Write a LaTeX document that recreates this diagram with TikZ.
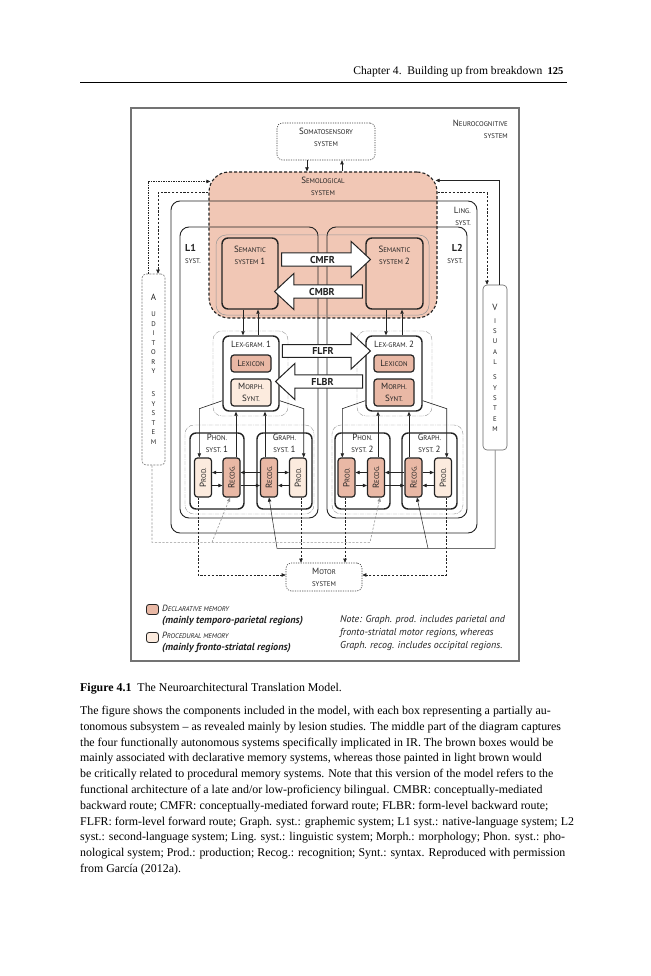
\documentclass[tikz,border=0pt]{standalone}
\usepackage{fontspec}
\usepackage{graphicx}
\setmainfont{Liberation Serif}
\newfontfamily\diagfont{PT Sans}
\usetikzlibrary{arrows.meta,calc,shapes.arrows}
\pgfdeclarelayer{back}
\pgfsetlayers{back,main}

\definecolor{ink}{RGB}{35,35,35}
\definecolor{semofill}{RGB}{241,199,181}
\definecolor{declfill}{RGB}{233,184,165}
\definecolor{procfill}{RGB}{252,235,222}
\definecolor{framegray}{RGB}{115,115,115}
\definecolor{envgray}{RGB}{150,150,150}

% small caps set by hand
\newcommand{\capbig}{\fontsize{9}{12}\selectfont}
\newcommand{\capsmall}{\fontsize{6.8}{12}\selectfont}
\newcommand{\fakesc}[2]{{\capbig #1}{\capsmall #2}}

\tikzset{
  lbl/.style={font=\diagfont\fontsize{6.8}{12}\selectfont, text=ink, inner sep=0pt, align=center},
  sysbox/.style={draw=ink, line width=0.9pt, rounded corners=9pt, inner sep=0pt},
  thickbox/.style={draw=ink, line width=1.4pt, rounded corners=6pt, fill=white, inner sep=0pt},
  declbox/.style={lbl, draw=ink, line width=1.2pt, rounded corners=3pt, fill=declfill},
  procbox/.style={lbl, draw=ink, line width=1.2pt, rounded corners=3pt, fill=procfill},
  envbox/.style={draw=envgray, line width=0.45pt, rounded corners=9pt, inner sep=0pt,
    dash pattern=on 4pt off 1pt on 0.6pt off 1pt},
  dotbox/.style={draw=ink!85, line width=0.6pt, rounded corners=5pt, inner sep=0pt,
    dash pattern=on 1.2pt off 1.2pt},
  conn/.style={-{Triangle[length=4pt,width=3.4pt]}, draw=ink, line width=0.6pt},
  dashconn/.style={conn, dash pattern=on 2.2pt off 1.6pt},
  blockarrow/.style={single arrow, draw=ink, fill=white, line width=1pt, text=ink,
    minimum width=36pt, single arrow head extend=9pt, single arrow tip angle=86,
    inner sep=1pt, font=\diagfont\bfseries\fontsize{10}{12}\selectfont},
}

\begin{document}
\begin{tikzpicture}[x=1pt, y=-1pt]
\begin{pgfonlayer}{back}
  \fill[white] (0,0) rectangle (650,976);
\end{pgfonlayer}
\useasboundingbox (0,0) rectangle (650,976);

% Running head
\node[anchor=base east, font=\fontsize{11.6}{13}\selectfont] (runhead) at (546,75) {Chapter 4.\ \ Building up from breakdown};
\node[anchor=base east, font=\bfseries\fontsize{10.5}{13}\selectfont] (folio) at (567,75) {125};
\draw[line width=0.5pt] (80,82) -- (567,82);

% Frame
\draw[framegray, line width=1.3pt] (131,108) rectangle (519,661);

% Semological system
\node[draw=ink, fill=semofill, line width=1.1pt, dash pattern=on 3pt off 2pt, rounded corners=20pt,
  minimum width=228pt, minimum height=146pt, inner sep=0pt] (semol) at (323,245) {};

% Linguistic, L1 and L2 systems
\node[sysbox, minimum width=306pt, minimum height=332pt] (ling) at (324,367) {};
\node[sysbox, minimum width=138pt, minimum height=291pt] (lone) at (249,372.5) {};
\node[sysbox, minimum width=140pt, minimum height=291pt] (ltwo) at (397,372.5) {};

% Semantic systems
\node[draw=envgray, line width=0.5pt, rounded corners=10pt, minimum width=213pt, minimum height=80pt, inner sep=0pt] (semenv) at (322.5,275) {};
\node[thickbox, fill=semofill, minimum width=56pt, minimum height=71pt] (semone) at (250,273.5) {};
\node[thickbox, fill=semofill, minimum width=57pt, minimum height=71pt] (semtwo) at (394.5,273.5) {};
\node[blockarrow, minimum height=89pt] (cmfr) at (322.5,259.5) {CMFR};
\node[blockarrow, shape border rotate=180, minimum height=88pt] (cmbr) at (322,291.5) {CMBR};

% Lexico-grammatical systems
\node[envbox, minimum width=75pt, minimum height=85pt] (lexenvone) at (250.5,373.5) {};
\node[envbox, minimum width=75pt, minimum height=85pt] (lexenvtwo) at (394.5,373.5) {};
\node[thickbox, minimum width=56pt, minimum height=75pt] (lexone) at (251,373.5) {};
\node[thickbox, minimum width=56pt, minimum height=75pt] (lextwo) at (394,373.5) {};
\node[declbox, minimum width=40pt, minimum height=17pt] (lexiconone) at (251,363.5) {\fakesc{L}{EXICON}};
\node[declbox, minimum width=40pt, minimum height=17pt] (lexicontwo) at (394,363.5) {\fakesc{L}{EXICON}};
\node[procbox, minimum width=40pt, minimum height=27pt] (morphone) at (251,392.5) {\fakesc{M}{ORPH.}\\\fakesc{S}{YNT.}};
\node[declbox, minimum width=40pt, minimum height=27pt] (morphtwo) at (394,392.5) {\fakesc{M}{ORPH.}\\\fakesc{S}{YNT.}};
\node[blockarrow, minimum height=88pt] (flfr) at (323,351) {FLFR};
\node[blockarrow, shape border rotate=180, minimum height=87pt] (flbr) at (322.5,381.5) {FLBR};

% Phonological and graphemic systems
\node[envbox, minimum width=129pt, minimum height=89pt] (lowenvone) at (249.5,469.5) {};
\node[envbox, minimum width=131pt, minimum height=89pt] (lowenvtwo) at (397.5,469.5) {};
\node[thickbox, minimum width=54pt, minimum height=76pt] (phonone) at (217,471) {};
\node[thickbox, minimum width=55pt, minimum height=76pt] (graphone) at (284.5,471) {};
\node[thickbox, minimum width=55pt, minimum height=76pt] (phontwo) at (362.5,471) {};
\node[thickbox, minimum width=55pt, minimum height=76pt] (graphtwo) at (429.5,471) {};
\node[procbox, minimum width=17pt, minimum height=39pt] (prodone) at (203,477.5) {\rotatebox{90}{\fakesc{P}{ROD.}}};
\node[declbox, minimum width=17pt, minimum height=39pt] (recogone) at (231.5,477.5) {\rotatebox{90}{\fakesc{R}{ECOG.}}};
\node[declbox, minimum width=17pt, minimum height=39pt] (grecogone) at (269,477.5) {\rotatebox{90}{\fakesc{R}{ECOG.}}};
\node[procbox, minimum width=17pt, minimum height=39pt] (gprodone) at (298,477.5) {\rotatebox{90}{\fakesc{P}{ROD.}}};
\node[declbox, minimum width=17pt, minimum height=39pt] (prodtwo) at (346.5,477.5) {\rotatebox{90}{\fakesc{P}{ROD.}}};
\node[declbox, minimum width=17pt, minimum height=39pt] (recogtwo) at (376,477.5) {\rotatebox{90}{\fakesc{R}{ECOG.}}};
\node[declbox, minimum width=17pt, minimum height=39pt] (grecogtwo) at (413.5,477.5) {\rotatebox{90}{\fakesc{R}{ECOG.}}};
\node[procbox, minimum width=17pt, minimum height=39pt] (gprodtwo) at (443,477.5) {\rotatebox{90}{\fakesc{P}{ROD.}}};

% Outer systems
\node[draw=ink!60, line width=0.6pt, dash pattern=on 2pt off 1.2pt, rounded corners=4pt,
  minimum width=23pt, minimum height=191pt, inner sep=0pt] (aud) at (153.5,369.5) {};
\node[draw=ink!70, line width=0.6pt, rounded corners=4pt,
  minimum width=24pt, minimum height=165pt, inner sep=0pt] (vis) at (495,367.5) {};
\node[dotbox, minimum width=98pt, minimum height=37pt] (soma) at (326,141.5) {};
\node[dotbox, lbl, minimum width=76pt, minimum height=28pt] (motor) at (324,577) {\fakesc{M}{OTOR}\\\fakesc{}{SYSTEM}};

% Connectors to and from the semological system
\begin{pgfonlayer}{back}
  \draw[dashconn] ($(semol.north west)+(0,21)$) -| ([xshift=4.5pt]aud.north);
  \draw[dashconn] ($(semol.north east)+(0,21)$) -| ([xshift=-8pt]vis.north);
\end{pgfonlayer}
\draw[dashconn, dash pattern=on 1.5pt off 1pt] ([xshift=-5.5pt]aud.north) |- ($(semol.north west)+(2,10)$);
\draw[conn] ([xshift=4pt]vis.north) |- ($(semol.north east)+(-2,9)$);
\draw[conn] ([xshift=-19pt]soma.south) -- ([xshift=-19pt]soma.south |- semol.north);
\draw[conn] ([xshift=16pt]soma.south |- semol.north) -- ([xshift=16pt]soma.south);

% Semantic <-> lexico-grammatical
\draw[conn] ([xshift=-7pt]semone.south) -- ([xshift=-7pt]semone.south |- lexone.north);
\draw[conn] ([xshift=8pt]semone.south |- lexone.north) -- ([xshift=8pt]semone.south);
\draw[conn] ([xshift=-8.5pt]semtwo.south) -- ([xshift=-8.5pt]semtwo.south |- lextwo.north);
\draw[conn] ([xshift=7.5pt]semtwo.south |- lextwo.north) -- ([xshift=7.5pt]semtwo.south);

% Lexico-grammatical -> production
\coordinate (bendone) at ($(lexone.south west)+(-23,-3)$);
\coordinate (bendtwo) at ($(lexone.south east)+(24,-3)$);
\coordinate (bendthree) at ($(lextwo.south west)+(-23,-3)$);
\coordinate (bendfour) at ($(lextwo.south east)+(24,-3)$);
\draw[conn] ($(lexone.south west)+(0,-11)$) -- (bendone) -- (bendone |- prodone.north);
\draw[conn] ($(lexone.south east)+(0,-11)$) -- (bendtwo) -- (bendtwo |- gprodone.north);
\draw[conn] ($(lextwo.south west)+(0,-11)$) -- (bendthree) -- (bendthree |- prodtwo.north);
\draw[conn] ($(lextwo.south east)+(0,-11)$) -- (bendfour) -- (bendfour |- gprodtwo.north);

% Recognition -> lexico-grammatical
\draw[conn] ([xshift=4.5pt]recogone.north) -- ([xshift=4.5pt]recogone.north |- lexone.south);
\draw[conn] ([xshift=-4pt]grecogone.north) -- ([xshift=-4pt]grecogone.north |- lexone.south);
\draw[conn] ([xshift=2pt]recogtwo.north) -- ([xshift=2pt]recogtwo.north |- lextwo.south);
\draw[conn] ([xshift=-4.5pt]grecogtwo.north) -- ([xshift=-4.5pt]grecogtwo.north |- lextwo.south);

% Production <-> recognition
\draw[conn] ([yshift=5pt]recogone.west) -- ([yshift=5pt]prodone.east);
\draw[conn] ([yshift=-8pt]prodone.east) -- ([yshift=-8pt]recogone.west);
\draw[conn] ([yshift=5pt]grecogone.west) -- ([yshift=5pt]recogone.east);
\draw[conn] ([yshift=-8pt]recogone.east) -- ([yshift=-8pt]grecogone.west);
\draw[conn] ([yshift=5pt]grecogone.east) -- ([yshift=5pt]gprodone.west);
\draw[conn] ([yshift=-8pt]gprodone.west) -- ([yshift=-8pt]grecogone.east);
\draw[conn] ([yshift=5pt]recogtwo.west) -- ([yshift=5pt]prodtwo.east);
\draw[conn] ([yshift=-8pt]prodtwo.east) -- ([yshift=-8pt]recogtwo.west);
\draw[conn] ([yshift=5pt]grecogtwo.west) -- ([yshift=5pt]recogtwo.east);
\draw[conn] ([yshift=-8pt]recogtwo.east) -- ([yshift=-8pt]grecogtwo.west);
\draw[conn] ([yshift=5pt]grecogtwo.east) -- ([yshift=5pt]gprodtwo.west);
\draw[conn] ([yshift=-8pt]gprodtwo.west) -- ([yshift=-8pt]grecogtwo.east);

% Production -> motor system
\draw[dashconn] ([xshift=-5pt]prodone.south) |- ([yshift=2pt]motor.west);
\draw[dashconn] ([xshift=3pt]gprodone.south) -- ([xshift=3pt]gprodone.south |- motor.north);
\draw[dashconn] ([xshift=-1.5pt]prodtwo.south) -- ([xshift=-1.5pt]prodtwo.south |- motor.north);
\draw[dashconn] ([xshift=3pt]gprodtwo.south) |- ([yshift=2pt]motor.east);

% Auditory and visual input to recognition
\coordinate (audturn) at ($(aud.south)+(-1.5,77)$);
\coordinate (visturn) at ($(vis.south)+(0,98)$);
\draw[dashconn, draw=envgray] ([xshift=-1.5pt]aud.south) -- (audturn) -- ($(audturn)+(218,0)$) -- ([xshift=4pt]recogtwo.south);
\draw[dashconn, draw=envgray] ($(audturn)+(60,0)$) -- ([xshift=-1.5pt]recogone.south);
\draw[conn, line width=0.5pt] (vis.south) -- (visturn) -- ($(visturn)+(-218,0)$) -- (grecogone.south);
\draw[conn, line width=0.5pt] ($(visturn)+(-67,0)$) -- ([xshift=3.5pt]grecogtwo.south);

% Labels
\node[lbl, anchor=north east, align=right] (neurolabel) at (508,119.5) {\fakesc{N}{EUROCOGNITIVE}\\\fakesc{}{SYSTEM}};
\node[lbl] (somalabel) at (326,137) {\fakesc{S}{OMATOSENSORY}\\\fakesc{}{SYSTEM}};
\node[lbl] (semollabel) at (323,186.5) {\fakesc{S}{EMOLOGICAL}\\\fakesc{}{SYSTEM}};
\node[lbl, anchor=east, align=right] (linglabel) at (471,216) {\fakesc{L}{ING.}\\\fakesc{}{SYST.}};
\node[lbl, anchor=west, align=left] (lonelabel) at (185,254) {{\bfseries\fontsize{10}{12}\selectfont L1}\\\fakesc{}{SYST.}};
\node[lbl, anchor=east, align=right] (ltwolabel) at (463,254) {{\bfseries\fontsize{10}{12}\selectfont L2}\\\fakesc{}{SYST.}};
\node[lbl] (semonelabel) at (250,255.5) {\fakesc{S}{EMANTIC}\\\fakesc{}{SYSTEM} {\capbig 1}};
\node[lbl] (semtwolabel) at (394.5,255.5) {\fakesc{S}{EMANTIC}\\\fakesc{}{SYSTEM} {\capbig 2}};
\node[lbl] (lexonelabel) at (251,344) {\fakesc{L}{EX-GRAM.} {\capbig 1}};
\node[lbl] (lextwolabel) at (394,344) {\fakesc{L}{EX-GRAM.} {\capbig 2}};
\node[lbl] (phononelabel) at (217,443) {\fakesc{P}{HON.}\\\fakesc{}{SYST.} {\capbig 1}};
\node[lbl] (graphonelabel) at (284.5,443) {\fakesc{G}{RAPH.}\\\fakesc{}{SYST.} {\capbig 1}};
\node[lbl] (phontwolabel) at (362.5,443) {\fakesc{P}{HON.}\\\fakesc{}{SYST.} {\capbig 2}};
\node[lbl] (graphtwolabel) at (429.5,443) {\fakesc{G}{RAPH.}\\\fakesc{}{SYST.} {\capbig 2}};
\node[lbl, anchor=north, font=\diagfont\fontsize{6.8}{9.5}\selectfont] (audlabel) at (153.5,294)
  {{\capbig A}\\[6.5pt]U\\D\\I\\T\\O\\R\\Y\\[13.5pt]S\\Y\\S\\T\\E\\M};
\node[lbl, anchor=north, font=\diagfont\fontsize{6.8}{10.3}\selectfont] (vislabel) at (495,303.5)
  {{\capbig V}\\[3pt]I\\S\\U\\A\\L\\[5pt]S\\Y\\S\\T\\E\\M};

% Legend and note
\node[declbox, line width=0.8pt, rounded corners=2.5pt, minimum width=12pt, minimum height=10pt] (declkey) at (152.5,609.5) {};
\node[procbox, line width=0.8pt, rounded corners=2.5pt, minimum width=12pt, minimum height=10pt] (prockey) at (152.5,637.5) {};
\node[lbl, anchor=base west, align=left, font=\diagfont\itshape\fontsize{10.2}{12}\selectfont] (decltext) at (162,623)
  {\fakesc{D}{ECLARATIVE MEMORY}\\{\bfseries (mainly temporo-parietal regions)}};
\node[lbl, anchor=base west, align=left, font=\diagfont\itshape\fontsize{10.2}{12}\selectfont] (proctext) at (162,650)
  {\fakesc{P}{ROCEDURAL MEMORY}\\{\bfseries (mainly fronto-striatal regions)}};
\node[lbl, anchor=base west, align=left, font=\diagfont\itshape\fontsize{10}{13}\selectfont] (notetext) at (340,648)
  {Note: Graph. prod. includes parietal and\\fronto-striatal motor regions, whereas\\Graph. recog. includes occipital regions.};

% Caption
\node[anchor=base west, inner sep=0pt, font=\fontsize{11.9}{15.8}\selectfont] (caption) at (80,691.5)
  {{\bfseries Figure 4.1}\enspace The Neuroarchitectural Translation Model.};
\node[anchor=base west, inner sep=0pt, align=left, font=\fontsize{11.9}{15.8}\selectfont] (captext) at (80,872.5)
  {The figure shows the components included in the model, with each box representing a partially au-\\
   tonomous subsystem -- as revealed mainly by lesion studies. The middle part of the diagram captures\\
   the four functionally autonomous systems specifically implicated in IR. The brown boxes would be\\
   mainly associated with declarative memory systems, whereas those painted in light brown would\\
   be critically related to procedural memory systems. Note that this version of the model refers to the\\
   functional architecture of a late and/or low-proficiency bilingual. CMBR: conceptually-mediated\\
   backward route; CMFR: conceptually-mediated forward route; FLBR: form-level backward route;\\
   FLFR: form-level forward route; Graph. syst.: graphemic system; L1 syst.: native-language system; L2\\
   syst.: second-language system; Ling. syst.: linguistic system; Morph.: morphology; Phon. syst.: pho-\\
   nological system; Prod.: production; Recog.: recognition; Synt.: syntax. Reproduced with permission\\
   from García (2012a).};
\end{tikzpicture}
\end{document}
